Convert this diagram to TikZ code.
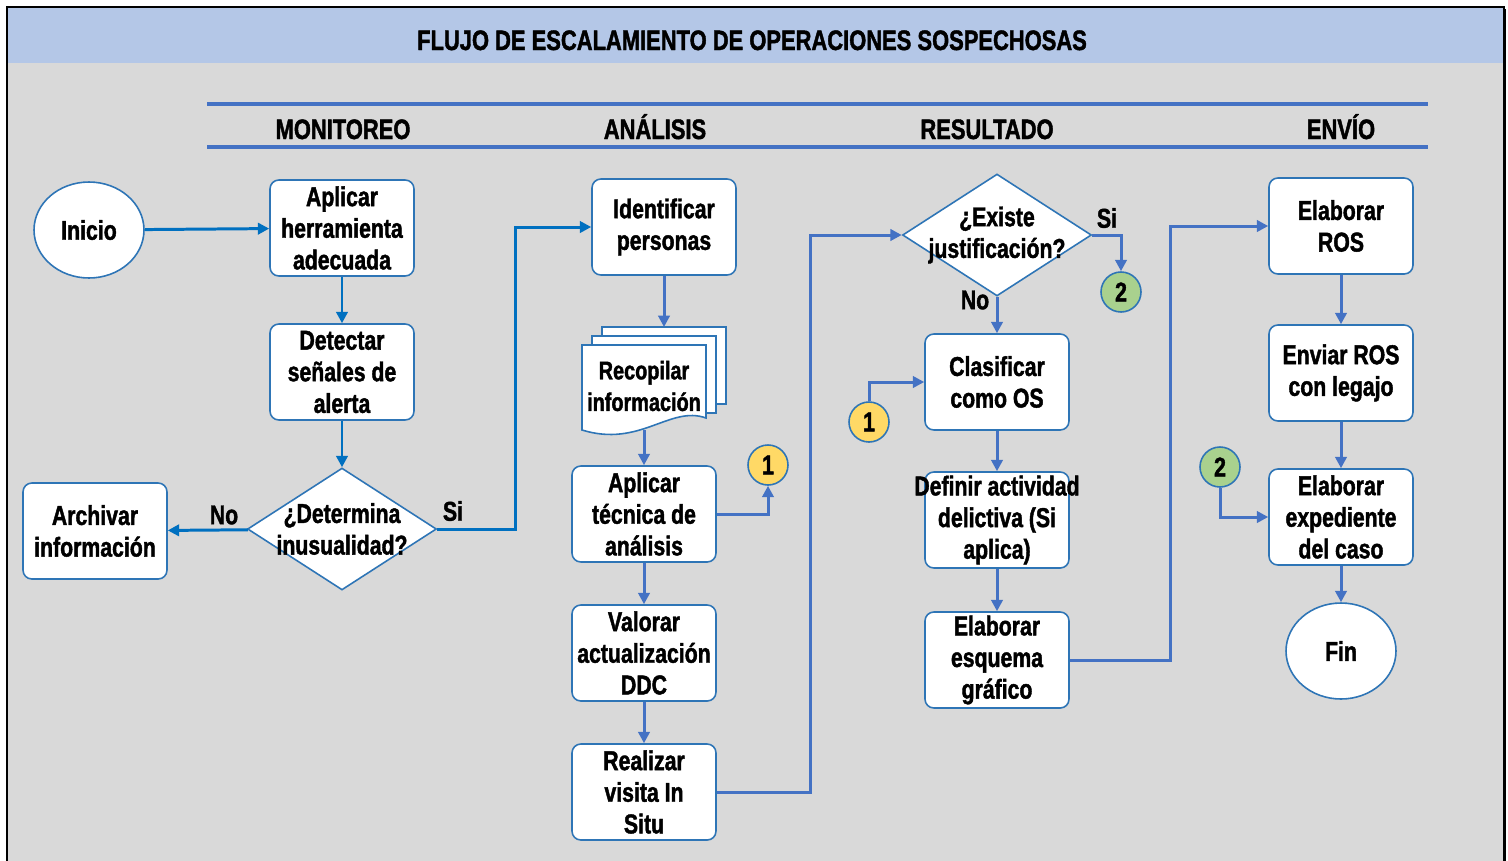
\documentclass[tikz,border=0pt]{standalone}
\usepackage{fontspec}
\setmainfont{Liberation Sans}[FakeStretch=0.78, BoldFeatures={FakeBold=1.5}]
\usetikzlibrary{shapes.geometric,arrows.meta}

\definecolor{fondo}{HTML}{D9D9D9}
\definecolor{barra}{HTML}{B4C7E7}
\definecolor{azul}{HTML}{4472C4}
\definecolor{azulb}{HTML}{0070C0}
\definecolor{borde}{HTML}{2E75B6}
\definecolor{amarillo}{HTML}{FFD966}
\definecolor{verde}{HTML}{A9D18E}

\newcommand\txt{\fontsize{15.5}{18}\selectfont\bfseries}
\newcommand\tit{\fontsize{16}{18}\selectfont\bfseries}

\tikzset{
  caja/.style={draw=borde, fill=white, line width=0.9pt, rounded corners=5pt,
    minimum width=2.88cm, minimum height=1.92cm, align=center, inner sep=0pt, font=\txt},
  terminal/.style={draw=borde, fill=white, line width=0.9pt, ellipse,
    minimum width=2.2cm, minimum height=1.92cm, font=\txt},
  decision/.style={draw=borde, fill=white, line width=0.9pt, diamond,
    minimum width=3.78cm, minimum height=2.44cm, inner sep=0pt},
  conector/.style={draw=borde, line width=0.9pt, circle, minimum size=0.8cm,
    inner sep=0pt, font=\txt},
  etiqueta/.style={font=\txt, inner sep=1pt},
  seccion/.style={font=\tit, anchor=base},
  flecha1/.style={draw=azulb, line width=1.7pt, -{Triangle[length=6.5pt,width=6.5pt]}},
  flecha2/.style={draw=azul, line width=1.7pt, -{Triangle[length=6.5pt,width=6.5pt]}},
  linea/.style={draw=azul, line width=2.2pt},
}

\begin{document}
\begin{tikzpicture}[x=0.02cm, y=-0.02cm]
\useasboundingbox (0,0) rectangle (1508,860);
\clip (0,0) rectangle (1508,860);
\fill[white] (0,0) rectangle (1508,860);

% marco y encabezados
\draw[fill=fondo, line width=1.2pt] (7,7) rectangle (1504,900);
\draw[line width=1.6pt] (1505,9) -- (1505,900);
\fill[barra] (8,8) rectangle (1503,63);
\node[seccion] (titulo) at (752,50) {FLUJO DE ESCALAMIENTO DE OPERACIONES SOSPECHOSAS};
\draw[linea] (207,104) -- (1428,104);
\draw[linea] (207,147) -- (1428,147);
\node[seccion] (monitoreo) at (343,139) {MONITOREO};
\node[seccion] (analisis) at (655,139) {ANÁLISIS};
\node[seccion] (resultado) at (987,139) {RESULTADO};
\node[seccion] (envio) at (1341,139) {ENVÍO};

% monitoreo
\node[terminal] (ini) at (89,230) {Inicio};
\node[caja] (aph) at (342,228) {Aplicar\\herramienta\\adecuada};
\node[caja] (det) at (342,372) {Detectar\\señales de\\alerta};
\node[decision, label={[align=center, font=\txt]center:¿Determina\\inusualidad?}] (dec1) at (342,529) {};
\node[caja] (arc) at (95,531) {Archivar\\información};

% analisis
\node[caja] (idp) at (664,227) {Identificar\\personas};
\draw[draw=borde, fill=white, line width=0.9pt] (602,327) rectangle (726,404);
\draw[draw=borde, fill=white, line width=0.9pt] (592,336) rectangle (716,413);
\draw[draw=borde, fill=white, line width=0.9pt] (582,345) -- (706,345) -- (706,418)
  .. controls (670,405) and (640,448) .. (582,430) -- cycle;
\coordinate (recb) at (664,327);
\node[align=center, font=\fontsize{14.5}{18}\selectfont\bfseries, minimum width=2.48cm, minimum height=1.76cm, inner sep=0pt] (rec) at (644,386) {Recopilar\\información};
\node[caja] (apt) at (644,514) {Aplicar\\técnica de\\análisis};
\node[caja] (val) at (644,653) {Valorar\\actualización\\DDC};
\node[caja] (rea) at (644,792) {Realizar\\visita In\\Situ};
\node[conector, fill=amarillo] (c1a) at (768,465) {1};

% resultado
\node[decision, label={[align=center, font=\txt]center:¿Existe\\justificación?}] (dec2) at (997,235) {};
\node[conector, fill=verde] (c2a) at (1121,292) {2};
\node[caja] (cla) at (997,382) {Clasificar\\como OS};
\node[conector, fill=amarillo] (c1b) at (869,422) {1};
\node[caja] (def) at (997,520) {\makebox[2.8cm]{Definir actividad}\\delictiva (Si\\aplica)};
\node[caja] (ela) at (997,660) {Elaborar\\esquema\\gráfico};

% envio
\node[caja] (ros) at (1341,226) {Elaborar\\ROS};
\node[caja] (env) at (1341,373) {Enviar ROS\\con legajo};
\node[conector, fill=verde] (c2b) at (1220,467) {2};
\node[caja] (exp) at (1341,517) {Elaborar\\expediente\\del caso};
\node[terminal] (fin) at (1341,651) {Fin};

% conexiones
\draw[flecha1] (ini) -- (aph);
\draw[flecha1] (aph) -- (det);
\draw[flecha1] (det) -- (dec1);
\draw[flecha1] (dec1) -- (arc);
\draw[flecha1] (dec1.east) -- ++(78,0) |- (idp.west);
\node[etiqueta] (no1) at (224,515) {No};
\node[etiqueta] (si1) at (453,511) {Si};

\draw[flecha2] (idp) -- (recb);
\draw[flecha2] (rec.south) -- (apt);
\draw[flecha2] (apt.east) -| (c1a.south);
\draw[flecha2] (apt) -- (val);
\draw[flecha2] (val) -- (rea);
\draw[flecha2] (rea.east) -- ++(94,0) |- (dec2.west);

\draw[flecha2] (dec2.east) -| (c2a.north);
\draw[flecha2] (dec2.south) -- (cla);
\node[etiqueta] (si2) at (1107,218) {Si};
\node[etiqueta] (no2) at (975,300) {No};
\draw[flecha2] (c1b.north) |- (cla.west);
\draw[flecha2] (cla) -- (def);
\draw[flecha2] (def) -- (ela);
\draw[flecha2] (ela.east) -- ++(101,0) |- (ros.west);

\draw[flecha2] (ros) -- (env);
\draw[flecha2] (env) -- (exp);
\draw[flecha2] (exp) -- (fin);
\draw[flecha2] (c2b.south) |- (exp.west);
\end{tikzpicture}
\end{document}
